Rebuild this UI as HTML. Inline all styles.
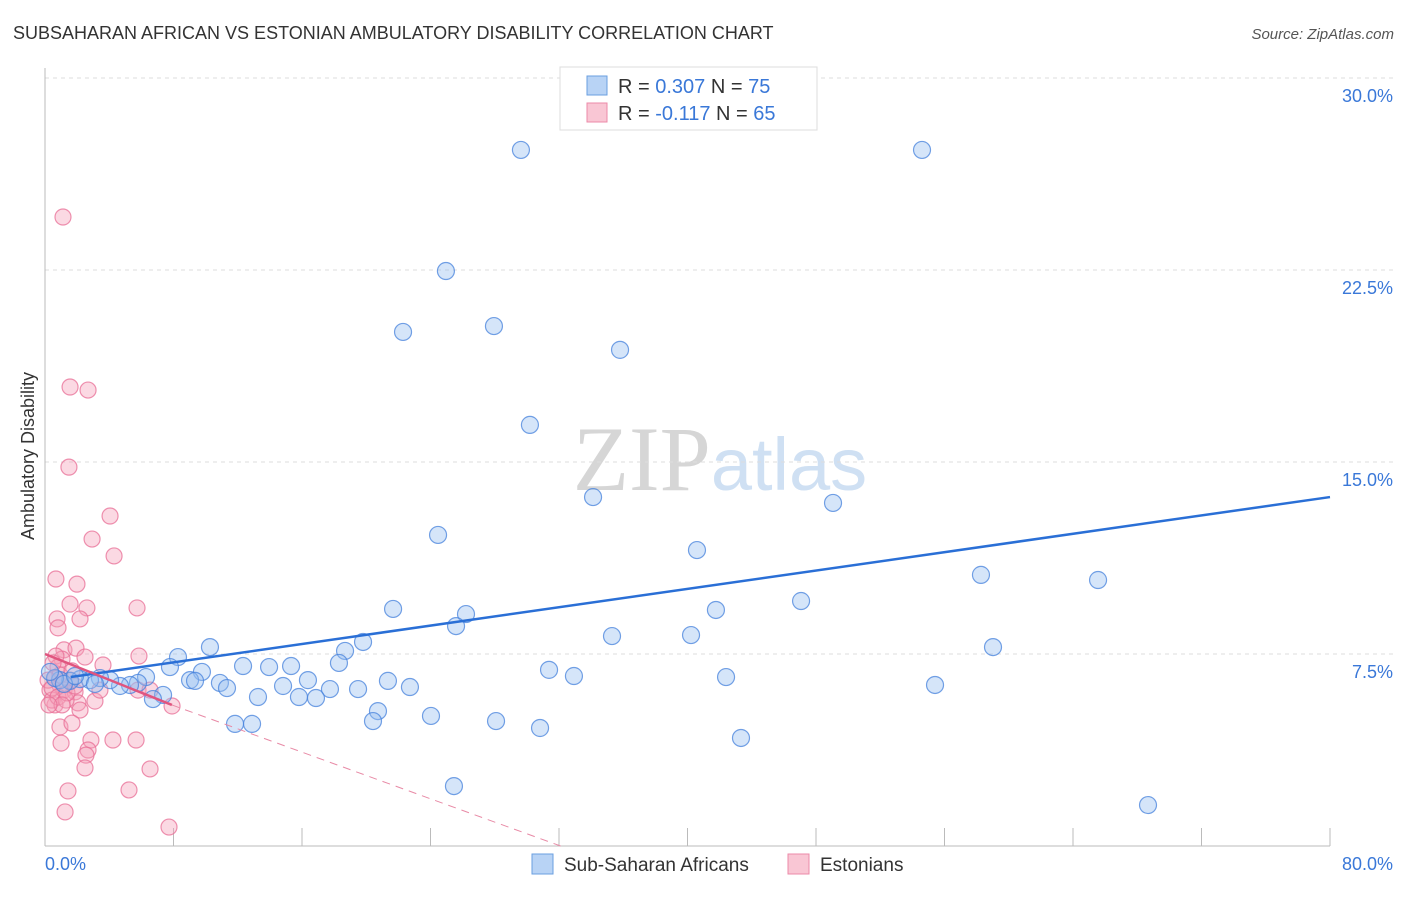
<!DOCTYPE html>
<html><head><meta charset="utf-8"><style>
body{margin:0;background:#fff;font-family:"Liberation Sans",sans-serif;}
svg text{font-family:"Liberation Sans",sans-serif;}
</style></head><body>
<svg id="chart" width="1406" height="892" xmlns="http://www.w3.org/2000/svg">
<text x="13" y="39" font-size="18" fill="#333">SUBSAHARAN AFRICAN VS ESTONIAN AMBULATORY DISABILITY CORRELATION CHART</text>
<text x="1394" y="39" font-size="15" fill="#555" text-anchor="end" font-style="italic">Source: ZipAtlas.com</text>
<text x="720" y="490" font-size="92" fill="#ddd" text-anchor="middle" font-family="Liberation Serif"><tspan fill="#d6d6d6" font-family="Liberation Serif">ZIP</tspan><tspan fill="#cfe0f3" font-family="Liberation Sans" font-size="74">atlas</tspan></text>
<g id="grid"></g><g id="axes"></g><g id="pts"></g><g id="lines"></g>
<text transform="translate(34,456) rotate(-90)" font-size="18" fill="#333" text-anchor="middle">Ambulatory Disability</text>
<g>
<rect x="560" y="67" width="257" height="63" fill="#fff" stroke="#ddd"/>
<rect x="587" y="76" width="20" height="19" fill="#b8d3f5" stroke="#6a9fe0"/>
<rect x="587" y="103" width="20" height="19" fill="#f9c6d4" stroke="#ec8aa8"/>
<text x="618" y="93" font-size="20" fill="#333">R = <tspan fill="#3a78d8">0.307</tspan>   N = <tspan fill="#3a78d8">75</tspan></text>
<text x="618" y="120" font-size="20" fill="#333">R = <tspan fill="#3a78d8">-0.117</tspan>   N = <tspan fill="#3a78d8">65</tspan></text>
</g>
<g>
<rect x="532" y="854" width="21" height="20" fill="#b8d3f5" stroke="#6a9fe0"/>
<text x="564" y="871" font-size="19" fill="#333">Sub-Saharan Africans</text>
<rect x="788" y="854" width="21" height="20" fill="#f9c6d4" stroke="#ec8aa8"/>
<text x="820" y="871" font-size="19" fill="#333">Estonians</text>
</g>
</svg>
<script>
const yTicks=[7.5,15,22.5,30];
const yTickLabels=["7.5%","15.0%","22.5%","30.0%"];
const xTickLabels=["0.0%","80.0%"];
const bluePx=[[521,150],[922,150],[446,271],[403,332],[494,326],[620,350],[530,425],[593,497],[833,503],[438,535],[697,550],[981,575],[1098,580],[393,609],[466,614],[716,610],[801,601],[456,626],[612,636],[691,635],[363,642],[210,647],[178,657],[345,651],[339,663],[170,667],[243,666],[269,667],[291,666],[202,672],[549,670],[574,676],[726,677],[993,647],[308,680],[146,677],[388,681],[410,687],[935,685],[283,686],[220,683],[190,680],[330,689],[358,689],[227,688],[258,697],[299,697],[316,698],[163,695],[153,699],[378,711],[431,716],[373,721],[496,721],[540,728],[235,724],[252,724],[741,738],[454,786],[1148,805],[138,683],[130,685],[120,686],[110,680],[100,678],[90,680],[80,679],[70,681],[60,680],[55,678],[64,684],[75,676],[50,672],[95,684],[195,681]];
const pinkPx=[[63,217],[70,387],[88,390],[69,467],[110,516],[92,539],[114,556],[56,579],[77,584],[137,608],[70,604],[87,608],[57,619],[80,619],[58,628],[64,650],[76,648],[103,665],[139,656],[62,659],[85,657],[56,656],[58,667],[55,678],[60,685],[50,690],[55,705],[64,690],[70,680],[75,692],[52,700],[78,703],[95,701],[172,706],[80,710],[60,727],[72,723],[91,740],[113,740],[136,740],[61,743],[88,750],[86,755],[85,768],[150,769],[68,791],[129,790],[65,812],[169,827],[48,680],[52,688],[58,697],[66,700],[60,675],[72,671],[53,663],[67,693],[62,705],[49,705],[75,686],[138,690],[150,690],[100,690]];
// convert estimated positions into data values (x %, y %)
const blueX=bluePx.map(p=>+((p[0]-45)/1285*80).toFixed(2));
const blueY=bluePx.map(p=>+((846-p[1])/192*7.5).toFixed(2));
const pinkX=pinkPx.map(p=>+((p[0]-45)/1285*80).toFixed(2));
const pinkY=pinkPx.map(p=>+((846-p[1])/192*7.5).toFixed(2));
const blueTrend=[[1.6,6.6],[80,13.63]];
const pinkTrendSolid=[[0,7.5],[7.9,5.51]];
const pinkTrendDash=[[7.9,5.51],[32.1,0]];
const X=v=>45+v/80*1285, Y=v=>846-v/30*768;
const NS="http://www.w3.org/2000/svg";
function mk(t,a,parent){const e=document.createElementNS(NS,t);for(const k in a)e.setAttribute(k,a[k]);document.getElementById(parent).appendChild(e);return e;}
yTicks.forEach((t,i)=>{
 const l=mk('line',{x1:45,x2:1394,y1:Y(t),y2:Y(t),stroke:'#ddd','stroke-dasharray':'4,4'},'grid');
 
 
 const tx=mk('text',{x:1393,y:Y(t)+24,'font-size':18,fill:'#3a78d8','text-anchor':'end'},'grid');tx.textContent=yTickLabels[i];
 
 
});
let ax=mk('line',{x1:45,x2:45,y1:68,y2:846,stroke:'#bbb'},'axes');


ax=mk('line',{x1:45,x2:1330,y1:846,y2:846,stroke:'#bbb'},'axes');


for(let i=1;i<=10;i++){const x=X(i*8);const t=mk('line',{x1:x,x2:x,y1:828,y2:846,stroke:'#bbb'},'axes');
 
 }
let xl=mk('text',{x:45,y:870,'font-size':18,fill:'#3a78d8'},'axes');xl.textContent=xTickLabels[0];


xl=mk('text',{x:1393,y:870,'font-size':18,fill:'#3a78d8','text-anchor':'end'},'axes');xl.textContent=xTickLabels[1];


pinkX.forEach((v,i)=>{const c=mk('circle',{cx:X(v),cy:Y(pinkY[i]),r:8,fill:'rgba(244,160,186,0.4)',stroke:'rgba(232,110,150,0.75)','stroke-width':1.2},'pts');
 
 });
blueX.forEach((v,i)=>{const c=mk('circle',{cx:X(v),cy:Y(blueY[i]),r:8.5,fill:'rgba(150,190,240,0.4)',stroke:'rgba(70,130,220,0.75)','stroke-width':1.2},'pts');
 
 });
let ln=mk('line',{x1:X(blueTrend[0][0]),y1:Y(blueTrend[0][1]),x2:X(blueTrend[1][0]),y2:Y(blueTrend[1][1]),stroke:'#2a6fd6','stroke-width':2.5},'lines');


ln=mk('line',{x1:X(pinkTrendSolid[0][0]),y1:Y(pinkTrendSolid[0][1]),x2:X(pinkTrendSolid[1][0]),y2:Y(pinkTrendSolid[1][1]),stroke:'#e0557f','stroke-width':2.5},'lines');


ln=mk('line',{x1:X(pinkTrendDash[0][0]),y1:Y(pinkTrendDash[0][1]),x2:X(pinkTrendDash[1][0]),y2:Y(pinkTrendDash[1][1]),stroke:'#e88aa6','stroke-width':1,'stroke-dasharray':'8,6'},'lines');


</script>
</body></html>
